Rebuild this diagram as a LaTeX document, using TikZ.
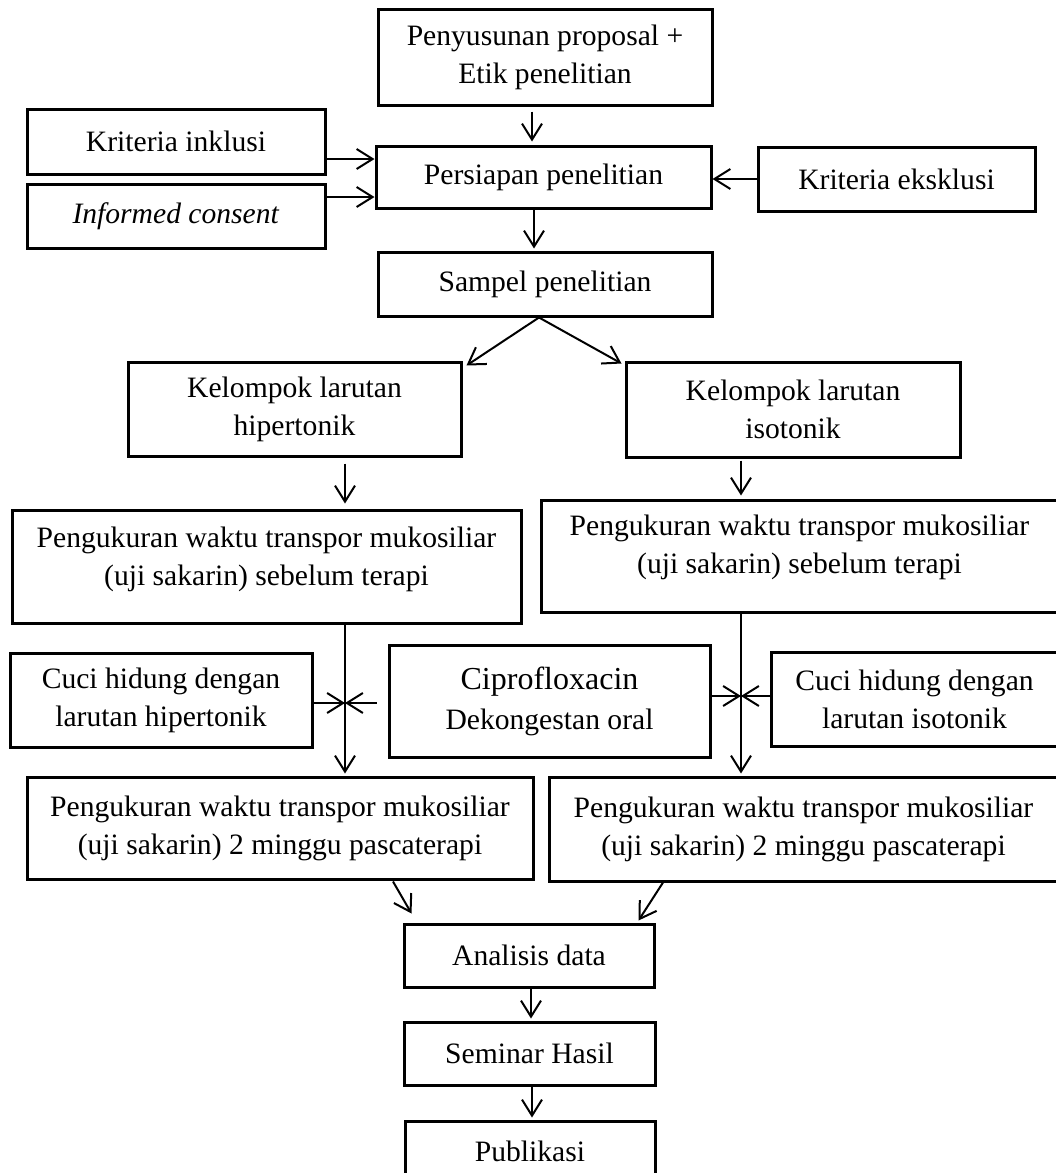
\documentclass[tikz,border=0pt]{standalone}
\usepackage{fontspec}
\setmainfont{Liberation Serif}
\usetikzlibrary{arrows.meta,calc}
\begin{document}
\begin{tikzpicture}[x=1pt,y=-1pt,
  box/.style={draw, line width=3pt, align=center, inner sep=0pt,
    font=\fontsize{29.6pt}{38pt}\selectfont},
  arr/.style={-{Straight Barb[length=16pt,width=20pt]}, line width=2pt}]
\useasboundingbox (0,0) rectangle (1056,1173);
\clip (0,0) rectangle (1056,1173);
% boxes
\node[box, minimum width=334pt, minimum height=96pt] (box1) at (545,57) {Penyusunan proposal +\\Etik penelitian};
\node[box, minimum width=298pt, minimum height=65pt] (inkl) at (176,141.5) {Kriteria inklusi};
\node[box, minimum width=298pt, minimum height=64pt] (inf) at (176,216) {\textit{Informed consent}};
\node[box, minimum width=335pt, minimum height=62pt] (pers) at (543.5,177) {Persiapan penelitian};
\node[box, minimum width=277pt, minimum height=64pt] (eks) at (896.5,179) {Kriteria eksklusi};
\node[box, minimum width=334pt, minimum height=64pt] (samp) at (545,284) {Sampel penelitian};
\node[box, minimum width=333pt, minimum height=94pt] (kh) at (294.5,409) {Kelompok larutan\\hipertonik};
\node[box, minimum width=334pt, minimum height=95pt] (ki) at (793,409.5) {Kelompok larutan\\isotonik};
\node[box, minimum width=509pt, minimum height=113pt,
  label={[align=center, font=\fontsize{29.6pt}{38pt}\selectfont, yshift=7pt]center:Pengukuran waktu transpor mukosiliar\\(uji sakarin) sebelum terapi}] (pl) at (266.5,566.5) {};
\node[box, minimum width=517pt, minimum height=112pt,
  label={[align=center, font=\fontsize{29.6pt}{38pt}\selectfont, yshift=9pt]center:Pengukuran waktu transpor mukosiliar\\(uji sakarin) sebelum terapi}] (pr) at (799.5,556) {};
\node[box, minimum width=302pt, minimum height=94pt] (cl) at (161,700) {Cuci hidung dengan\\larutan hipertonik};
\node[box, minimum width=321pt, minimum height=112pt] (cip) at (549.5,701) {{\fontsize{32pt}{38pt}\selectfont Ciprofloxacin}\\[2pt]Dekongestan oral};
\node[box, minimum width=287pt, minimum height=94pt] (cr) at (914.5,699) {Cuci hidung dengan\\larutan isotonik};
\node[box, minimum width=506pt, minimum height=102pt] (p2l) at (280,828) {Pengukuran waktu transpor mukosiliar\\(uji sakarin) 2 minggu pascaterapi};
\node[box, minimum width=509pt, minimum height=104pt] (p2r) at (803.5,829) {Pengukuran waktu transpor mukosiliar\\(uji sakarin) 2 minggu pascaterapi};
\node[box, minimum width=250pt, minimum height=63pt] (an) at (529,955.5) {Analisis data};
\node[box, minimum width=251pt, minimum height=63pt] (sem) at (529.5,1053.5) {Seminar Hasil};
\node[box, minimum width=250pt, minimum height=64pt] (pub) at (530,1153) {\raisebox{4pt}{Publikasi}};
% junctions
\coordinate (jl) at (345,703);
\coordinate (jr) at (741,696);
% connectors
\draw[arr] ($(box1.south)+(-13,5)$) -- ($(pers.north)+(-11.5,-3)$);
\draw[arr] ($(inkl.east)+(0,17.5)$) -- ($(pers.west)+(0,-18)$);
\draw[arr] ($(inf.east)+(0,-19)$) -- ($(pers.west)+(0,20)$);
\draw[arr] (eks.west) -- (eks.west -| pers.east);
\draw[arr] ($(pers.south)+(-9.5,0)$) -- ($(samp.north)+(-11,-2)$);
\draw[arr] ($(samp.south)+(-6,0)$) -- ($(kh.north east)+(4,5)$);
\draw[arr] ($(samp.south)+(-6,0)$) -- ($(ki.north west)+(-3,3)$);
\draw[arr] ($(kh.south)+(50.5,6)$) -- ($(pl.north)+(78.5,-5)$);
\draw[arr] ($(ki.south)+(-52,2)$) -- ($(pr.north)+(-58.5,-3)$);
\draw[arr] ($(pl.south)+(78.5,0)$) -- ($(p2l.north)+(65,-2)$);
\draw[arr] ($(pr.south)+(-58.5,0)$) -- ($(p2r.north)+(-62.5,-2)$);
\draw[arr] (cl.east |- jl) -- (jl);
\draw[arr, shorten <=11pt] (cip.west |- jl) -- (jl);
\draw[arr] (cip.east |- jr) -- (jr);
\draw[arr] (cr.west |- jr) -- (jr);
\draw[arr] ($(p2l.south)+(113,1)$) -- ($(an.north west)+(9,-9)$);
\draw[arr] ($(p2r.south)+(-140.5,0)$) -- ($(an.north east)+(-17,-2)$);
\draw[arr] ($(an.south)+(2,0)$) -- ($(sem.north)+(1.5,-2)$);
\draw[arr] ($(sem.south)+(2.5,0)$) -- ($(pub.north)+(2,-2)$);
\end{tikzpicture}
\end{document}
